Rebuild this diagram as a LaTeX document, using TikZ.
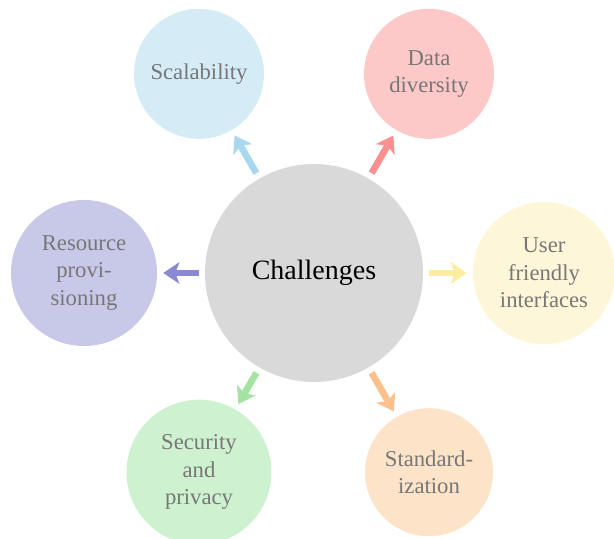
\documentclass[tikz,border=0pt]{standalone}
\usepackage{fontspec}
\setmainfont{LiberationSerif}[
    Extension=.ttf,
    UprightFont=*-Regular,
    BoldFont=*-Bold,
    ItalicFont=*-Italic]
\usepackage{tikz}
\usetikzlibrary{arrows.meta,positioning}

\definecolor{hubfill}{HTML}{D9D9D9}
\definecolor{textgray}{HTML}{777777}
\definecolor{scalfill}{HTML}{D5EBF6}
\definecolor{scalarrow}{HTML}{A8D8EF}
\definecolor{datafill}{HTML}{FCC8C8}
\definecolor{dataarrow}{HTML}{FB9090}
\definecolor{userfill}{HTML}{FEF6D8}
\definecolor{userarrow}{HTML}{FDEB9F}
\definecolor{stdfill}{HTML}{FDE3C8}
\definecolor{stdarrow}{HTML}{FBC08C}
\definecolor{secfill}{HTML}{CEF1D0}
\definecolor{secarrow}{HTML}{A2E4A0}
\definecolor{resfill}{HTML}{C8C8E8}
\definecolor{resarrow}{HTML}{8A8AD2}

\tikzset{
    hub/.style={circle,fill=hubfill,inner sep=0pt,minimum size=163.5pt,
        font=\fontsize{21}{25}\selectfont},
    sat/.style={circle,inner sep=0pt,align=center,text=textgray,
        font=\fontsize{17}{20.5}\selectfont},
    spoke/.style={line width=5pt,shorten <=4.5pt,shorten >=4.5pt,
        -{Stealth[length=12pt,width=16pt,inset=3pt]}}
}

\begin{document}
\begin{tikzpicture}
  \useasboundingbox (-235.5pt,-199.5pt) rectangle (225pt,204.75pt);

  % centre
  \node[hub] (hub) at (0,0) {Challenges};

  % the six challenges round it
  \node[sat,fill=scalfill,minimum size=97.5pt] (scal) at (120:172.5pt) {Scalability};
  \node[sat,fill=datafill,minimum size=97.5pt] (data) at (60:172.5pt) {Data\\diversity};
  \node[sat,fill=userfill,minimum size=106.5pt] (user) at (0:172.5pt) {User\\friendly\\interfaces};
  \node[sat,fill=stdfill,minimum size=96pt] (std) at (-60:172.5pt) {Standard-\\ization};
  \node[sat,fill=secfill,minimum size=108.75pt] (sec) at (-120:172.5pt) {Security\\and\\privacy};
  \node[sat,fill=resfill,minimum size=109.5pt] (res) at (180:172.5pt) {Resource\\provi-\\sioning};

  % spokes
  \draw[spoke,scalarrow] (hub) -- (scal);
  \draw[spoke,dataarrow] (hub) -- (data);
  \draw[spoke,userarrow] (hub) -- (user);
  \draw[spoke,stdarrow] (hub) -- (std);
  \draw[spoke,secarrow] (hub) -- (sec);
  \draw[spoke,resarrow] (hub) -- (res);

\end{tikzpicture}
\end{document}
